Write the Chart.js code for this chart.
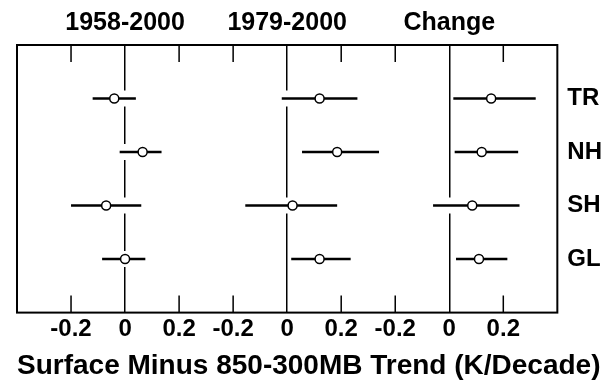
<!DOCTYPE html>
<html><head><meta charset="utf-8">
<script src="https://cdn.jsdelivr.net/npm/chart.js@4"></script>
<style>html,body{margin:0;padding:0;background:#fff}#wrap{width:613px;height:388px;position:relative}</style>
</head><body><div id="wrap"><canvas id="c"></canvas></div>
<script>
const regions = ['TR', 'NH', 'SH', 'GL'];
const periods = ['1958-2000', '1979-2000', 'Change'];
const tickLabels = ['-0.2', '0', '0.2'];
// central trend estimate and lower / upper bounds (K/decade)
const mid5800 = [-0.04, 0.065, -0.07, 0.0];
const lo5800  = [-0.12, -0.02, -0.20, -0.085];
const hi5800  = [0.04, 0.135, 0.06, 0.075];
const mid7900 = [0.12, 0.185, 0.02, 0.12];
const lo7900  = [-0.02, 0.055, -0.155, 0.015];
const hi7900  = [0.26, 0.34, 0.185, 0.235];
const midChg  = [0.155, 0.12, 0.085, 0.11];
const loChg   = [0.015, 0.02, -0.06, 0.025];
const hiChg   = [0.32, 0.255, 0.26, 0.215];

const PANEL = 0.6; // width of one panel on the shared axis
const series = [[mid5800, lo5800, hi5800], [mid7900, lo7900, hi7900], [midChg, loChg, hiChg]];
const FONT = 'Liberation Sans, Arial, sans-serif';

function panelOf(v) { return Math.round(v / PANEL); }
function isEnd(v) { return v < -0.39 || v > 1.59; }
function isZero(v) { return !isEnd(v) && Math.abs(v - panelOf(v) * PANEL) < 1e-6; }

const datasets = series.map((s, p) => ({
  label: periods[p],
  data: regions.map((r, i) => ({ x: s[0][i] + p * PANEL, y: i + 1, lo: s[1][i] + p * PANEL, hi: s[2][i] + p * PANEL })),
  pointRadius: 4.5,
  pointBackgroundColor: '#fff',
  pointBorderColor: '#000',
  pointBorderWidth: 1.5,
  showLine: false
}));

const errorBars = {
  id: 'errorBars',
  beforeDatasetsDraw(chart) {
    const ctx = chart.ctx, xs = chart.scales.x, ys = chart.scales.y;
    ctx.save();
    chart.data.datasets.forEach(ds => ds.data.forEach(d => {
      const x1 = xs.getPixelForValue(d.lo), x2 = xs.getPixelForValue(d.hi), y = ys.getPixelForValue(d.y);
      ctx.beginPath(); ctx.strokeStyle = '#fff'; ctx.lineWidth = 16; ctx.lineCap = 'butt';
      ctx.moveTo(x1, y); ctx.lineTo(x2, y); ctx.stroke();
      ctx.beginPath(); ctx.strokeStyle = '#000'; ctx.lineWidth = 2.5;
      ctx.moveTo(x1, y); ctx.lineTo(x2, y); ctx.stroke();
    }));
    ctx.restore();
  }
};

const frame = {
  id: 'frame',
  afterDraw(chart) {
    const ctx = chart.ctx, a = chart.chartArea, xs = chart.scales.x;
    ctx.save();
    ctx.strokeStyle = '#000';
    ctx.lineWidth = 1.5;
    xs.ticks.forEach(t => {
      if (isEnd(t.value) || isZero(t.value)) return;
      const x = xs.getPixelForValue(t.value);
      ctx.beginPath();
      ctx.moveTo(x, a.bottom); ctx.lineTo(x, a.bottom - 17);
      ctx.moveTo(x, a.top); ctx.lineTo(x, a.top + 17);
      ctx.stroke();
    });
    ctx.lineWidth = 2;
    ctx.strokeRect(a.left, a.top, a.right - a.left, a.bottom - a.top);
    ctx.restore();
  }
};

new Chart(document.getElementById('c'), {
  type: 'scatter',
  data: { datasets },
  options: {
    responsive: true,
    maintainAspectRatio: false,
    animation: false,
    events: [],
    layout: { padding: { left: 17, right: 1, top: 1, bottom: 5 } },
    plugins: {
      legend: { display: false },
      tooltip: { enabled: false },
      title: {
        display: true, position: 'bottom', align: 'start',
        text: 'Surface Minus 850-300MB Trend (K/Decade)', color: '#000',
        font: { family: FONT, weight: 'bold', size: 28 },
        padding: { top: 4, bottom: 0 }
      }
    },
    scales: {
      x: {
        type: 'linear', position: 'bottom', min: -0.4, max: 1.6,
        ticks: {
          stepSize: 0.2, color: '#000', padding: 2, maxRotation: 0, autoSkip: false,
          font: { family: FONT, weight: 'bold', size: 24 },
          callback: v => isEnd(v) ? '' : tickLabels[Math.round((v - panelOf(v) * PANEL) / 0.2) + 1]
        },
        grid: {
          drawTicks: false,
          color: c => (c.tick && isZero(c.tick.value)) ? '#000' : 'rgba(0,0,0,0)',
          lineWidth: 1.5
        },
        border: { display: false }
      },
      x2: {
        type: 'linear', position: 'top', min: -0.4, max: 1.6,
        afterBuildTicks: axis => { axis.ticks = periods.map((p, i) => ({ value: i * PANEL })); },
        ticks: {
          color: '#000', padding: 7, maxRotation: 0, autoSkip: false,
          font: { family: FONT, weight: 'bold', size: 25 },
          callback: (v, i) => periods[i]
        },
        grid: { display: false, drawTicks: false },
        border: { display: false }
      },
      y: {
        type: 'linear', position: 'right', min: 0, max: 5, reverse: true,
        afterBuildTicks: axis => { axis.ticks = regions.map((r, i) => ({ value: i + 1 })); },
        ticks: {
          color: '#000', padding: 10,
          font: { family: FONT, weight: 'bold', size: 24 },
          callback: (v, i) => regions[i]
        },
        grid: { display: false, drawTicks: false },
        border: { display: false }
      }
    }
  },
  plugins: [errorBars, frame]
});
</script>
</body></html>
